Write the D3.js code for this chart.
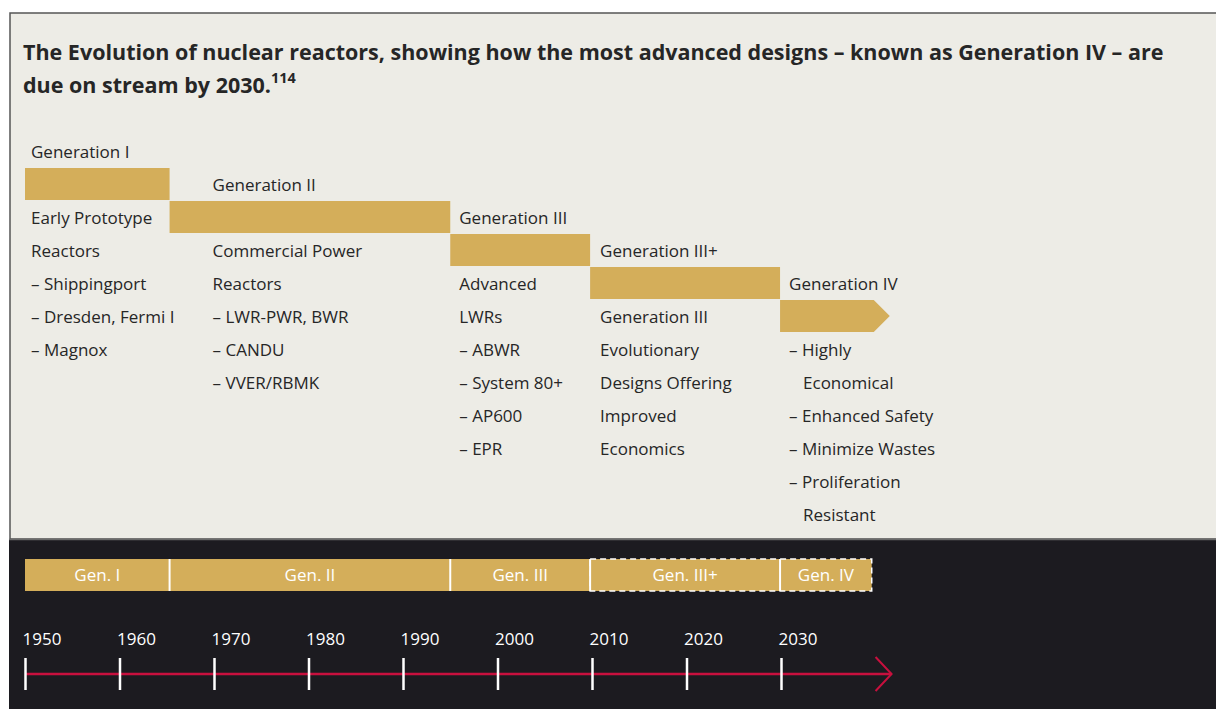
<!DOCTYPE html>
<html>
<head>
<meta charset="utf-8">
<script src="https://cdn.jsdelivr.net/npm/d3@7"></script>
<style>
  body { margin: 0; background: #fff; }
  svg { display: block; }
  text { font-family: "Open Sans", "Noto Sans", sans-serif; }
</style>
</head>
<body>
<svg id="chart" width="1216" height="709"></svg>
<script>
// chart data
var genNames = ["Generation I", "Generation II", "Generation III", "Generation III+", "Generation IV"];
var genShort = ["Gen. I", "Gen. II", "Gen. III", "Gen. III+", "Gen. IV"];
var genStart = [1950, 1965.3, 1995, 2009.8, 2029.9];
var genEnd = [1965.3, 1995, 2009.8, 2029.9, 2039.6];
var genProjected = [false, false, false, true, true];
var genLines = [
  ["Early Prototype", "Reactors", "\u2013 Shippingport", "\u2013 Dresden, Fermi I", "\u2013 Magnox"],
  ["Commercial Power", "Reactors", "\u2013 LWR-PWR, BWR", "\u2013 CANDU", "\u2013 VVER/RBMK"],
  ["Advanced", "LWRs", "\u2013 ABWR", "\u2013 System 80+", "\u2013 AP600", "\u2013 EPR"],
  ["Generation III", "Evolutionary", "Designs Offering", "Improved", "Economics"],
  ["\u2013 Highly", "   Economical", "\u2013 Enhanced Safety", "\u2013 Minimize Wastes", "\u2013 Proliferation", "   Resistant"]
];
var tickYears = [1950, 1960, 1970, 1980, 1990, 2000, 2010, 2020, 2030];
var axisEnd = 2041.7;
var titleLines = ["The Evolution of nuclear reactors, showing how the most advanced designs \u2013 known as Generation IV \u2013 are",
                  "due on stream by 2030."];
var titleNote = "114";

// colours and layout
var gold = "#d4ae5a", light = "#edece6", dark = "#1c1b20", red = "#c8103e", ink = "#262626";
var rowH = 33, row0 = 152;            // centre of first text row
var textPad = [6, 43, 9, 10, 9];        // text inset from bar start

var svg = d3.select("#chart");
var x = d3.scaleLinear().domain([1950, 2030]).range([25, 781]);

// panels
svg.append("rect").attr("x", 10).attr("y", 13).attr("width", 1216).attr("height", 526)
  .attr("fill", light).attr("stroke", "#555").attr("stroke-width", 1.5);
svg.append("rect").attr("x", 9).attr("y", 539).attr("width", 1216).attr("height", 180)
  .attr("fill", dark);
svg.append("line").attr("x1", 9).attr("x2", 1216).attr("y1", 539.5).attr("y2", 539.5)
  .attr("stroke", "#6a6a6a").attr("stroke-width", 1.5);

// title
var title = svg.append("g");
title.selectAll("text").data(titleLines).join("text")
  .attr("x", 23).attr("y", function(d, i){ return 60 + i * 33; })
  .attr("fill", ink).attr("font-size", 21.5).attr("font-weight", "bold")
  .text(function(d){ return d; });
title.select("text:last-child").append("tspan")
  .attr("font-size", 14.5).attr("dy", -10).text(titleNote);

// step chart
var gens = genNames.map(function(n, i){
  return {name: n, start: genStart[i], end: genEnd[i], lines: genLines[i], i: i};
});

var col = svg.append("g").selectAll("g").data(gens).join("g");

col.append("text")
  .attr("x", function(d){ return x(d.start) + textPad[d.i]; })
  .attr("y", function(d){ return row0 + d.i * rowH; })
  .attr("dy", "0.35em").attr("font-size", 17).attr("fill", ink)
  .text(function(d){ return d.name; });

col.append("path")
  .attr("fill", gold)
  .attr("d", function(d){
    var x0 = x(d.start), x1 = x(d.end), y0 = row0 + 16 + d.i * rowH, y1 = y0 + 32;
    if (d.i === genNames.length - 1) {
      x1 += 2;
      return "M" + x0 + "," + y0 + "H" + x1 + "L" + (x1 + 16) + "," + (y0 + 16) + "L" + x1 + "," + y1 + "H" + x0 + "Z";
    }
    return "M" + x0 + "," + y0 + "H" + x1 + "V" + y1 + "H" + x0 + "Z";
  });

col.selectAll(".line").data(function(d){ return d.lines.map(function(t, j){ return {t: t, j: j, g: d}; }); })
  .join("text").attr("class", "line")
  .attr("x", function(d){ return x(d.g.start) + textPad[d.g.i] + (/^\s/.test(d.t) ? 14 : 0); })
  .attr("y", function(d){ return row0 + (d.g.i + 2 + d.j) * rowH; })
  .attr("dy", "0.35em").attr("font-size", 17).attr("fill", ink)
  .text(function(d){ return d.t.trim(); });

// bottom band
var band = svg.append("g");
band.selectAll("rect").data(gens).join("rect")
  .attr("x", function(d){ return x(d.start); })
  .attr("width", function(d){ return x(d.end) - x(d.start); })
  .attr("y", 559).attr("height", 32).attr("fill", gold);
band.selectAll(".sep").data(gens.slice(1)).join("line").attr("class", "sep")
  .attr("x1", function(d){ return x(d.start); }).attr("x2", function(d){ return x(d.start); })
  .attr("y1", 559).attr("y2", 591).attr("stroke", "#fff").attr("stroke-width", 2);
var proj = gens.filter(function(d){ return genProjected[d.i]; });
band.append("rect")
  .attr("x", x(d3.min(proj, function(d){ return d.start; })))
  .attr("width", x(d3.max(proj, function(d){ return d.end; })) - x(d3.min(proj, function(d){ return d.start; })))
  .attr("y", 559).attr("height", 32).attr("fill", "none")
  .attr("stroke", "#fff").attr("stroke-width", 1.5).attr("stroke-dasharray", "6,4");
band.selectAll("text").data(gens).join("text")
  .attr("x", function(d){ return (x(d.start) + x(d.end)) / 2; })
  .attr("y", 575).attr("dy", "0.35em").attr("text-anchor", "middle")
  .attr("font-size", 17).attr("fill", "#fff")
  .text(function(d){ return genShort[d.i]; });

// timeline axis
var axisY = 674;
svg.append("line").attr("x1", x(1950)).attr("x2", x(axisEnd))
  .attr("y1", axisY).attr("y2", axisY).attr("stroke", red).attr("stroke-width", 2.5);
svg.append("path")
  .attr("d", "M" + (x(axisEnd) - 16) + "," + (axisY - 17) + "L" + x(axisEnd) + "," + axisY + "L" + (x(axisEnd) - 16) + "," + (axisY + 17))
  .attr("fill", "none").attr("stroke", red).attr("stroke-width", 2);

var axis = svg.append("g").attr("transform", "translate(0," + axisY + ")")
  .call(d3.axisBottom(x).tickValues(tickYears).tickFormat(d3.format("d")).tickSize(16));
axis.select(".domain").remove();
axis.selectAll(".tick line").attr("y1", -16).attr("stroke", "#fff").attr("stroke-width", 2.5);
axis.selectAll(".tick text")
  .attr("y", -35).attr("dy", "0.35em").attr("x", -3)
  .attr("text-anchor", "start").attr("fill", "#fff")
  .attr("font-size", 17).attr("font-family", "Open Sans, sans-serif");
</script>
</body>
</html>
